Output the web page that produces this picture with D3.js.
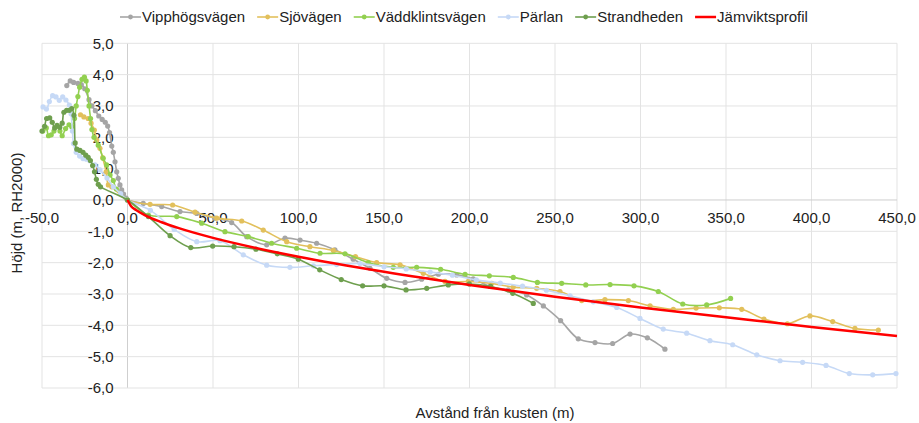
<!DOCTYPE html>
<html>
<head>
<meta charset="utf-8">
<script src="https://cdn.jsdelivr.net/npm/d3@7"></script>
<style>
  body { margin: 0; background: #fff; }
  svg { font-family: "Liberation Sans", Arial, sans-serif; }
</style>
</head>
<body>
<svg id="chart" width="919" height="423"></svg>
<script>
// profile data, [distance (m), height (m RH2000)]
const vipphogsvagen = [
  [-35.5,3.65],[-33.5,3.8],[-31.5,3.75],[-29,3.72],[-27,3.68],[-25,3.55],[-22.5,3.2],[-20.8,3.0],
  [-18.8,2.85],[-16.8,2.68],[-14.8,2.57],[-13,2.48],[-11.6,2.36],[-10.5,2.15],[-9.2,1.72],[-8.3,1.52],
  [-7.3,1.22],[-6.3,0.9],[-5.4,0.69],[-4.4,0.48],[-3.4,0.32],[-2.3,0.19],[-0.8,0.06],[0,0],
  [9.2,-0.11],[20,-0.21],[30.7,-0.37],[40.5,-0.43],[51,-0.58],[60.9,-0.72],[69.7,-1.17],[81.4,-1.43],
  [92.1,-1.22],[100.9,-1.28],[110.6,-1.38],[121.3,-1.59],[132,-1.89],[141.8,-2.18],[151.6,-2.5],
  [162.3,-2.63],[172,-2.53],[181.8,-2.37],[192.5,-2.39],[202.2,-2.52],[212,-2.76],[222.7,-2.87],
  [233.4,-3.03],[243.2,-3.38],[253.3,-3.85],[263.6,-4.43],[273.4,-4.55],[283.7,-4.58],[293.9,-4.28],
  [304,-4.4],[314.3,-4.76]
];
const sjovagen = [
  [-27.5,2.72],[-25.5,2.65],[-23,2.6],[-21.3,2.45],[-19.4,2.23],[-18,1.91],[-16.1,1.65],[-14.5,1.35],
  [-12.5,0.9],[-11.2,0.48],[-9.2,0.42],[0,0],
  [13.2,-0.14],[26.4,-0.16],[39.5,-0.39],[52.2,-0.58],[66.8,-0.67],[79.4,-0.96],[93.1,-1.33],
  [106.7,-1.49],[120.4,-1.61],[133.3,-1.81],[145.7,-2.0],[159.4,-2.07],[173,-2.34],[185.7,-2.6],
  [199.3,-2.6],[213,-2.66],[225.6,-2.78],[239.3,-2.82],[252.9,-2.92],[265.6,-3.21],[279.2,-3.18],
  [292.9,-3.21],[305.6,-3.38],[319.2,-3.49],[332.5,-3.45],[346.1,-3.44],[359.2,-3.49],[372.2,-3.8],
  [385.9,-3.95],[399.1,-3.7],[412.4,-3.88],[425.4,-4.1],[439.1,-4.15]
];
const vaddklintsvagen = [
  [-49.5,2.2],[-47.5,2.3],[-46.2,2.05],[-44.6,2.08],[-43,2.2],[-41,2.35],[-39.5,2.2],[-38.2,2.05],
  [-36.2,2.28],[-34.2,2.4],[-32.6,2.34],[-31,2.6],[-30,3.0],[-29,3.3],[-28,3.6],[-26.6,3.85],
  [-25.2,3.92],[-24.2,3.8],[-23.5,3.5],[-22.5,3.0],[-21.6,2.6],[-20.8,2.25],[-19.6,2.0],[-17.1,1.75],
  [-14.2,1.33],[-12.2,1.12],[-10.2,0.8],[-8.3,0.62],[-6.5,0.35],[0,0],
  [12.2,-0.48],[28.8,-0.53],[43.4,-0.74],[57,-1.01],[70.6,-1.17],[84.3,-1.38],[98.9,-1.54],
  [112.6,-1.7],[127.2,-1.72],[140.8,-2.0],[155.4,-2.15],[169.1,-2.15],[183.1,-2.21],[197.4,-2.37],
  [211.6,-2.42],[225.6,-2.47],[239.7,-2.63],[253.9,-2.66],[268,-2.71],[282.2,-2.7],[296.2,-2.74],
  [310.4,-2.92],[324.7,-3.32],[338.7,-3.35],[352.7,-3.14]
];
const parlan = [
  [-49.4,2.97],[-47.4,2.9],[-45.7,3.14],[-43.8,3.33],[-41.8,3.29],[-39.9,3.18],[-37.9,3.29],[-36,3.19],
  [-34,3.03],[-33,2.75],[-32.2,2.2],[-31.6,1.8],[-30,1.52],[-28,1.4],[-26,1.32],[-24,1.3],[-22,1.25],
  [-19,1.12],[-16.1,0.96],[-12,0.7],[-8.3,0.42],[-4,0.2],[0,0],
  [13.4,-0.33],[27.3,-0.94],[40.5,-1.33],[54.1,-1.3],[67.7,-1.75],[81.4,-2.08],[95,-2.15],[108.7,-2.1],
  [122.3,-2.06],[136,-2.03],[150,-2.13],[163,-2.2],[177,-2.3],[190,-2.4],[204,-2.55],[218,-2.65],
  [231,-2.75],[245,-2.88],[258.8,-3.06],[272.4,-3.25],[286.1,-3.43],[299.7,-3.78],[313.3,-4.12],
  [327,-4.25],[340.6,-4.49],[353.9,-4.62],[368,-4.94],[381.6,-5.13],[394.8,-5.18],[408.5,-5.28],
  [422.1,-5.54],[435.8,-5.58],[449.4,-5.54]
];
const strandheden = [
  [-50,2.2],[-48.5,2.35],[-47.3,2.6],[-45.5,2.62],[-44,2.48],[-42.6,2.3],[-41.2,2.38],[-39.6,2.32],
  [-38.2,2.45],[-37.2,2.8],[-35.6,2.86],[-34,2.86],[-32.6,2.92],[-31.3,2.7],[-30.6,1.82],[-29.6,1.62],
  [-27.8,1.58],[-26,1.52],[-24.4,1.43],[-23,1.36],[-21.7,1.26],[-20.4,1.1],[-19.3,0.9],[-18.2,0.66],
  [-17.1,0.5],[-15.8,0.42],[0,0],
  [12.2,-0.53],[24.9,-1.14],[37,-1.52],[49.8,-1.47],[62.3,-1.49],[75.1,-1.57],[87.6,-1.72],[99.9,-1.89],
  [112.4,-2.23],[125,-2.54],[137.5,-2.74],[150,-2.74],[162.9,-2.87],[175,-2.82],[187.6,-2.71],
  [199.9,-2.68],[212.4,-2.76],[225.3,-2.98],[237.3,-3.3]
];
const jamviktsprofil = [
  [0,0],[2,-0.19],[5,-0.32],[10,-0.48],[20,-0.71],[30,-0.9],[50,-1.21],[75,-1.53],[100,-1.81],
  [150,-2.29],[200,-2.71],[250,-3.09],[300,-3.43],[350,-3.74],[400,-4.05],[450,-4.34]
];

const seriesNames = ["Vipphögsvägen", "Sjövägen", "Väddklintsvägen", "Pärlan", "Strandheden", "Jämviktsprofil"];
const seriesData = [vipphogsvagen, sjovagen, vaddklintsvagen, parlan, strandheden, jamviktsprofil];
const seriesColors = ["#A5A5A5", "#E2C05C", "#92D050", "#C6D9F6", "#6E9F4E", "#FF0000"];

const xTicks = [-50, 0, 50, 100, 150, 200, 250, 300, 350, 400, 450];
const yTicks = [5, 4, 3, 2, 1, 0, -1, -2, -3, -4, -5, -6];

const fmt = v => v.toFixed(1).replace(".", ",");

const svg = d3.select("#chart");

const x = d3.scaleLinear().domain([-50, 450]).range([42, 897]);
const y = d3.scaleLinear().domain([-6, 5]).range([388, 43.3]);

// grid
svg.append("g").selectAll("line")
  .data(xTicks)
  .enter().append("line")
  .attr("x1", d => x(d)).attr("x2", d => x(d))
  .attr("y1", y(5)).attr("y2", y(-6))
  .attr("stroke", d => d === 0 ? "#CFCFCF" : "#E3E3E3")
  .attr("stroke-width", 1);

svg.append("g").selectAll("line")
  .data(yTicks)
  .enter().append("line")
  .attr("x1", x(-50)).attr("x2", x(450))
  .attr("y1", d => y(d)).attr("y2", d => y(d))
  .attr("stroke", d => d === 0 ? "#CFCFCF" : "#E3E3E3")
  .attr("stroke-width", 1);

// tick labels
svg.append("g").selectAll("text")
  .data(xTicks)
  .enter().append("text")
  .attr("x", d => x(d))
  .attr("y", y(0) + 23)
  .attr("text-anchor", "middle")
  .style("font-size", "15px")
  .attr("fill", "#222")
  .text(fmt);

svg.append("g").selectAll("text")
  .data(yTicks)
  .enter().append("text")
  .attr("x", x(0) - 14)
  .attr("y", d => y(d))
  .attr("dy", "0.35em")
  .attr("text-anchor", "end")
  .style("font-size", "15px")
  .attr("fill", "#222")
  .text(fmt);

// axis titles
svg.append("text")
  .attr("x", 495)
  .attr("y", 418)
  .attr("text-anchor", "middle")
  .style("font-size", "15px")
  .attr("fill", "#222")
  .text("Avstånd från kusten (m)");

svg.append("text")
  .attr("transform", "translate(22,213) rotate(-90)")
  .attr("text-anchor", "middle")
  .style("font-size", "15px")
  .attr("fill", "#222")
  .text("Höjd (m, RH2000)");

// series
const line = d3.line()
  .x(d => x(d[0]))
  .y(d => y(d[1]))
  .curve(d3.curveCatmullRom.alpha(0.5));

seriesData.forEach((data, i) => {
  const isRed = i === 5;
  const g = svg.append("g");
  g.append("path")
    .datum(data)
    .attr("d", isRed ? line.curve(d3.curveMonotoneX)(data) : line.curve(d3.curveCatmullRom.alpha(0.5))(data))
    .attr("fill", "none")
    .attr("stroke", seriesColors[i])
    .attr("stroke-width", isRed ? 2.5 : 1.6)
    .attr("stroke-linejoin", "round");
  if (!isRed) {
    g.selectAll("circle")
      .data(data)
      .enter().append("circle")
      .attr("cx", d => x(d[0]))
      .attr("cy", d => y(d[1]))
      .attr("r", 2.6)
      .attr("fill", seriesColors[i]);
  }
});

// legend
const legend = svg.append("g");
let lx = 120;
seriesNames.forEach((name, i) => {
  const item = legend.append("g").attr("transform", `translate(${lx},17)`);
  item.append("line")
    .attr("x1", 0).attr("x2", 21)
    .attr("stroke", seriesColors[i])
    .attr("stroke-width", i === 5 ? 2.5 : 1.6);
  if (i !== 5) {
    item.append("circle").attr("cx", 10.5).attr("r", 2.4).attr("fill", seriesColors[i]);
  }
  const t = item.append("text")
    .attr("x", 22)
    .attr("dy", "0.35em")
    .style("font-size", "15px")
    .attr("fill", "#222")
    .text(name);
  lx += 22 + t.node().getComputedTextLength() + 12;
});
</script>
</body>
</html>
